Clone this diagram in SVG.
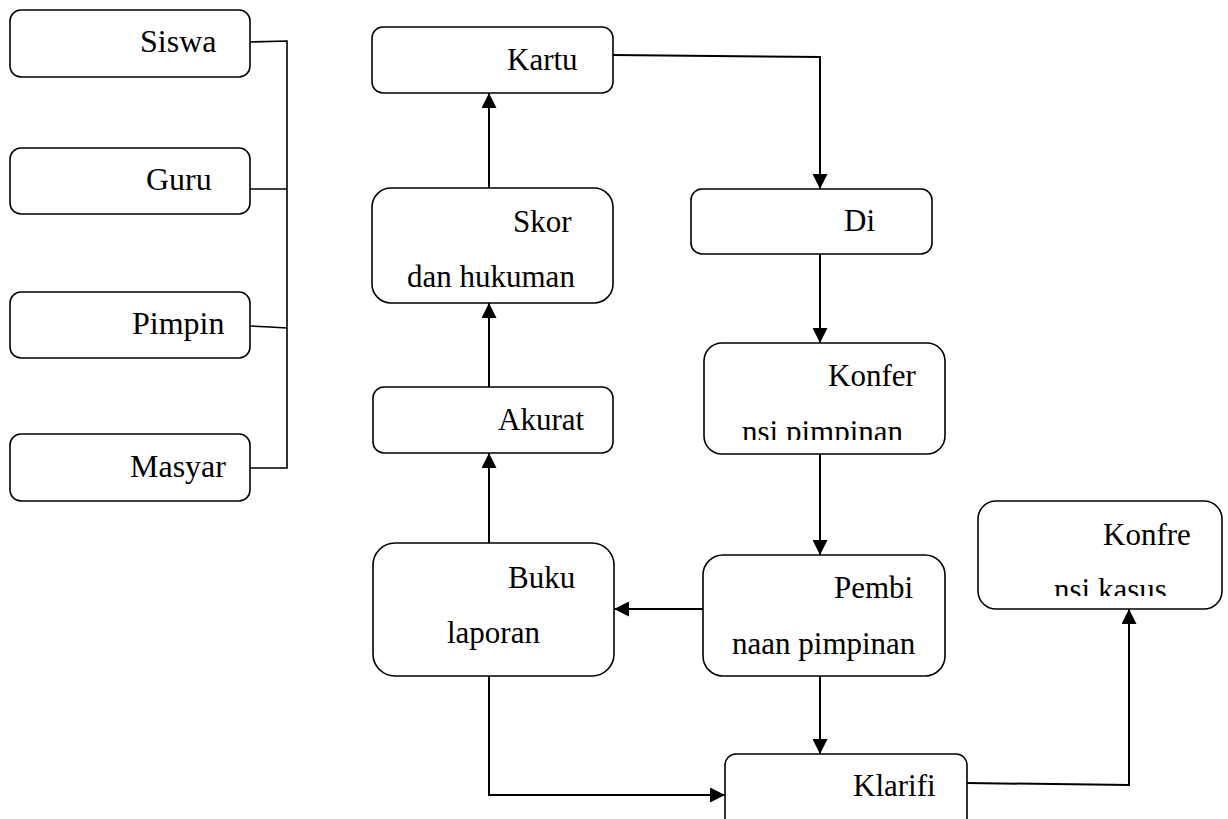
<svg xmlns="http://www.w3.org/2000/svg" width="1228" height="819" viewBox="0 0 1228 819">
<style>
.box{fill:#fff;stroke:#000;stroke-width:1.6}
.t{font-family:"Liberation Serif","Times New Roman",serif;font-size:31px;fill:#000}
.tl{font-family:"Liberation Serif","Times New Roman",serif;font-size:32px;fill:#000}
.c{fill:none;stroke:#000;stroke-width:2}
.b{fill:none;stroke:#000;stroke-width:1.6}
</style>
<defs>
<marker id="ah" viewBox="0 0 15 15" refX="15" refY="7.5" markerWidth="15" markerHeight="15" markerUnits="userSpaceOnUse" orient="auto">
<path d="M0,0 L15,7.5 L0,15 z" fill="#000"/>
</marker>
<clipPath id="clipKonfer"><rect x="704" y="343" width="241" height="97"/></clipPath>
<clipPath id="clipKonfre"><rect x="978" y="501" width="244" height="95"/></clipPath>
</defs>
<rect width="1228" height="819" fill="#fff"/>

<g id="connectors">
<polyline class="b" points="250,42 287,41 287,468 250,468"/>
<line class="b" x1="250" y1="189" x2="287" y2="189"/>
<polyline class="b" points="250,326 270,327 287,328"/>
<line class="c" x1="489" y1="188" x2="489" y2="93" marker-end="url(#ah)"/>
<line class="c" x1="489" y1="387" x2="489" y2="303" marker-end="url(#ah)"/>
<line class="c" x1="489" y1="543" x2="489" y2="453" marker-end="url(#ah)"/>
<polyline class="c" points="613,55 820,57 820,189" marker-end="url(#ah)"/>
<line class="c" x1="820" y1="254" x2="820" y2="343" marker-end="url(#ah)"/>
<line class="c" x1="820" y1="454" x2="820" y2="555" marker-end="url(#ah)"/>
<line class="c" x1="703" y1="609" x2="614" y2="609" marker-end="url(#ah)"/>
<line class="c" x1="820" y1="676" x2="820" y2="754" marker-end="url(#ah)"/>
<polyline class="c" points="489,676 489,795 725,795" marker-end="url(#ah)"/>
<polyline class="c" points="967,783 1129,785 1129,609" marker-end="url(#ah)"/>
</g>

<g id="siswa"><rect class="box" x="10" y="10" width="240" height="67" rx="11"/><text class="tl" x="140" y="52">Siswa</text></g>
<g id="guru"><rect class="box" x="10" y="148" width="240" height="66" rx="11"/><text class="tl" x="146" y="190">Guru</text></g>
<g id="pimpin"><rect class="box" x="10" y="292" width="240" height="66" rx="11"/><text class="tl" x="132" y="334">Pimpin</text></g>
<g id="masyar"><rect class="box" x="10" y="434" width="240" height="67" rx="11"/><text class="tl" x="130" y="477">Masyar</text></g>

<g id="kartu"><rect class="box" x="372" y="27" width="241" height="66" rx="11"/><text class="t" x="507" y="70">Kartu</text></g>
<g id="skor"><rect class="box" x="372" y="188" width="241" height="115" rx="19"/><text class="t" x="513" y="232">Skor</text><text class="t" x="407" y="287">dan hukuman</text></g>
<g id="akurat"><rect class="box" x="373" y="387" width="240" height="66" rx="11"/><text class="t" x="498" y="430">Akurat</text></g>
<g id="buku"><rect class="box" x="373" y="543" width="241" height="133" rx="22"/><text class="t" x="508" y="588">Buku</text><text class="t" x="447" y="643">laporan</text></g>

<g id="di"><rect class="box" x="691" y="189" width="241" height="65" rx="11"/><text class="t" x="844" y="231">Di</text></g>
<g id="konfer"><rect class="box" x="704" y="343" width="241" height="111" rx="18"/><text class="t" x="828" y="386">Konfer</text><text class="t" x="742" y="442" clip-path="url(#clipKonfer)">nsi pimpinan</text></g>
<g id="pembi"><rect class="box" x="703" y="555" width="242" height="121" rx="20"/><text class="t" x="834" y="598">Pembi</text><text class="t" x="732" y="654">naan pimpinan</text></g>
<g id="konfre"><rect class="box" x="978" y="501" width="244" height="108" rx="18"/><text class="t" x="1103" y="545">Konfre</text><text class="t" x="1054" y="600" clip-path="url(#clipKonfre)">nsi kasus</text></g>
<g id="klarifi"><rect class="box" x="725" y="754" width="242" height="90" rx="11"/><text class="t" x="853" y="796">Klarifi</text></g>
</svg>
